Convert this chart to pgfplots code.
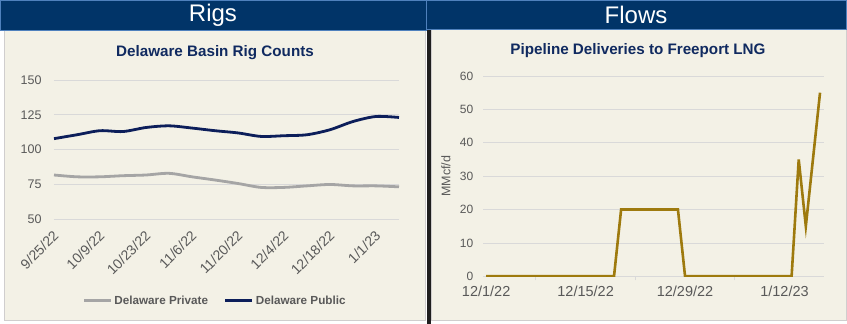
\documentclass[border=0pt]{standalone}
\usepackage{pgfplots}
\pgfplotsset{compat=1.18}
\usepackage{fontspec}
\setmainfont{Liberation Sans}
\definecolor{hdr}{RGB}{1,52,104}
\definecolor{cream}{RGB}{243,241,230}
\definecolor{pborder}{RGB}{208,206,206}
\definecolor{hdrline}{RGB}{79,129,189}
\definecolor{ttl}{RGB}{16,42,96}
\definecolor{pub}{RGB}{12,30,90}
\definecolor{priv}{RGB}{165,165,165}
\definecolor{gold}{RGB}{158,122,14}
\definecolor{tickc}{RGB}{89,89,89}
\definecolor{grd}{RGB}{217,217,217}
\begin{document}
\begin{tikzpicture}[x=1pt,y=1pt]
\path[use as bounding box] (0,0) rectangle (847,324);
\fill[white] (0,0) rectangle (847,324);
% panels
\filldraw[fill=cream,draw=pborder,line width=1pt] (4.5,3.5) rectangle (425.5,294);
\filldraw[fill=cream,draw=pborder,line width=1pt] (431,3.5) rectangle (846,294);
\fill[black!88] (426.7,0) rectangle (430.7,294);
% headers
\filldraw[fill=hdr,draw=hdrline,line width=0.8pt] (0.5,294) rectangle (426,323.5);
\filldraw[fill=hdr,draw=hdrline,line width=0.8pt] (426,295) rectangle (846.5,323.5);
\node[text=white,font=\fontsize{24}{28}\selectfont] at (213,309) {Rigs};
\node[text=white,font=\fontsize{24}{28}\selectfont] at (636,309) {Flows};
% titles
\node[text=ttl,font=\bfseries\fontsize{15.2}{17}\selectfont] at (215,271) {Delaware Basin Rig Counts};
\node[text=ttl,font=\bfseries\fontsize{15.2}{17}\selectfont] at (638,273) {Pipeline Deliveries to Freeport LNG};

\begin{axis}[at={(54pt,104.7pt)}, anchor=south west, scale only axis,
  width=345pt, height=139.3pt,
  xmin=0, xmax=15, ymin=50, ymax=150,
  ytick={50,75,100,125,150},
  xtick={0,2,...,14},
  xticklabels={9/25/22,10/9/22,10/23/22,11/6/22,11/20/22,12/4/22,12/18/22,1/1/23},
  axis line style={draw=none}, major tick length=0pt,
  ymajorgrids, major grid style={grd, line width=0.8pt},
  /pgf/number format/assume math mode=true,
  yticklabel style={font=\fontsize{12.5}{14}\selectfont, text=tickc, xshift=-9pt},
  xticklabel style={font=\fontsize{14}{16}\selectfont, text=tickc, xshift=2pt, yshift=-14pt, rotate=45, anchor=east, inner sep=0pt},
  legend style={at={(axis description cs:0.467,-0.585)}, anchor=center, draw=none, fill=none,
    font=\bfseries\fontsize{11.7}{13}\selectfont, text=tickc, legend columns=2,
    /tikz/every even column/.append style={column sep=14pt}},
  legend image code/.code={\draw[#1] (0pt,0pt) -- (27pt,0pt);},
  clip=false,
]
\addplot[priv, line width=2.8pt, smooth] coordinates {
(0,81.8) (1,80.5) (2,80.5) (3,81.3) (4,81.8) (5,83) (6,80.5) (7,78.2)
(8,75.7) (9,72.9) (10,72.9) (11,74) (12,75) (13,74) (14,74) (15,73.3)};
\addlegendentry{Delaware Private}
\addplot[pub, line width=2.8pt, smooth] coordinates {
(0,107.9) (1,110.7) (2,113.6) (3,113) (4,115.9) (5,117.1) (6,115.5) (7,113.6)
(8,112) (9,109.5) (10,110) (11,110.7) (12,114.3) (13,120.2) (14,123.8) (15,123.1)};
\addlegendentry{Delaware Public}
\end{axis}

\begin{axis}[at={(483.3pt,47.7pt)}, anchor=south west, scale only axis,
  width=341pt, height=200.3pt,
  xmin=-0.4, xmax=47.6, ymin=0, ymax=60,
  ytick={0,10,...,60},
  xtick={0,14,28,42},
  xticklabels={12/1/22,12/15/22,12/29/22,1/12/23},
  minor xtick={7,21,35},
  axis line style={draw=none}, major tick length=0pt, minor tick length=4pt,
  tick align=outside, xtick pos=bottom, ytick pos=left,
  minor tick style={grd, line width=0.8pt},
  ymajorgrids, major grid style={grd, line width=0.8pt},
  /pgf/number format/assume math mode=true,
  yticklabel style={font=\fontsize{12}{14}\selectfont, text=tickc, xshift=-6.5pt},
  xticklabel style={font=\fontsize{14.5}{16}\selectfont, text=tickc, yshift=-6.5pt},
  ylabel={MMcf/d},
  every axis y label/.style={at={(axis description cs:-0.11,0.5)}, rotate=90, anchor=center,
    font=\fontsize{12.5}{14}\selectfont, text=tickc},
]
\addplot[gold, line width=2.6pt] coordinates {
(0,0) (18,0) (19,20) (27,20) (28,0) (43,0) (44,35) (45,15) (47,55)};
\end{axis}
\end{tikzpicture}
\end{document}
